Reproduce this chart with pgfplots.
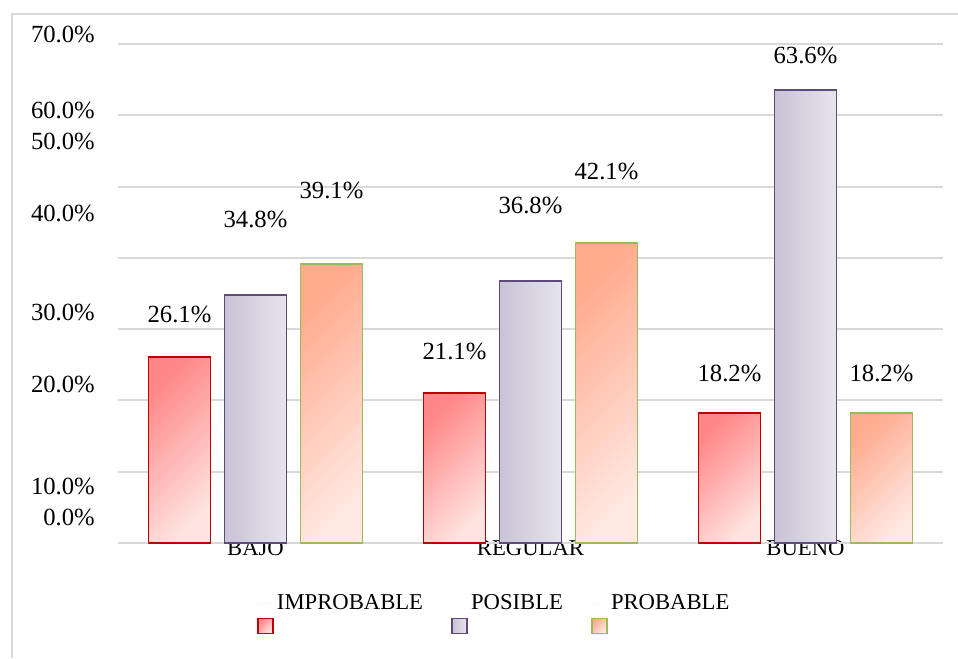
\documentclass[border=0pt]{standalone}
\usepackage{fontspec}
\setmainfont{Liberation Serif}
\usepackage{pgfplots}
\pgfplotsset{compat=1.18}

\definecolor{framegray}{HTML}{D9D9D9}
\definecolor{gridgray}{HTML}{D9D9D9}
\definecolor{impbord}{HTML}{C00000}
\definecolor{imptop}{HTML}{FF8787}
\definecolor{impbot}{HTML}{FFE4E1}
\definecolor{posbord}{HTML}{604A7B}
\definecolor{postop}{HTML}{C9C3D6}
\definecolor{posbot}{HTML}{E6E4EC}
\definecolor{probbord}{HTML}{9BBB59}
\definecolor{probtop}{HTML}{FFAB8E}
\definecolor{probbot}{HTML}{FFE8E2}

\newcommand\tl[1]{\textnormal{#1}}

% bar looks; one bar per \addplot so that each bar gets its own gradient
\tikzset{
  barimp/.style={draw=impbord, line width=1.4pt, top color=imptop, bottom color=impbot, shading angle=45},
  barpos/.style={draw=posbord, line width=1.4pt, left color=postop, right color=posbot},
  barprob/.style={draw=probbord, line width=1.4pt, top color=probtop, bottom color=probbot, shading angle=45},
}

\begin{document}
\begin{tikzpicture}
\useasboundingbox (0pt,0pt) rectangle (718.5pt,-493.5pt);
\fill[white] (0pt,0pt) rectangle (718.5pt,-493.5pt);
\draw[framegray, line width=1.5pt] (9pt,-493.5pt) -- (9pt,-10.5pt) -- (718.5pt,-10.5pt);
\begin{axis}[
  scale only axis,
  width=618.75pt, height=382.3pt,
  at={(88.5pt,-407.25pt)}, anchor=south west,
  xmin=-0.5, xmax=2.5, ymin=0, ymax=71.5,
  clip=false,
  axis line style={draw=none},
  major tick length=0pt,
  xtick={0,1,2},
  xticklabels={BAJO,REGULAR,BUENO},
  xticklabel style={anchor=base, yshift=-9pt, inner sep=0pt,
    font=\fontsize{17}{20}\selectfont},
  ytick={3.65,8.00,22.23,32.33,46.29,56.39,60.74,71.40},
  yticklabels={\tl{0.0\%},\tl{10.0\%},\tl{20.0\%},\tl{30.0\%},\tl{40.0\%},\tl{50.0\%},\tl{60.0\%},\tl{70.0\%}},
  yticklabel style={anchor=east, inner sep=0pt, xshift=-17.25pt,
    font=\fontsize{18.5}{22}\selectfont},
  extra y ticks={0,10,20,30,40,50,60,70},
  extra y tick labels={},
  extra y tick style={grid=major},
  major grid style={draw=gridgray, line width=1.5pt},
  ybar, bar width=46.5pt,
  /pgf/number format/assume math mode=true,
  point meta=y,
  nodes near coords={\pgfmathprintnumber[fixed,fixed zerofill,precision=1]{\pgfplotspointmeta}\%},
  nodes near coords style={anchor=center, text=black,
    font=\fontsize{18.5}{22}\selectfont},
  legend columns=3,
  legend style={at={(0.1697,-0.1177)}, anchor=west, draw=none, fill=none,
    inner sep=0pt, outer sep=0pt,
    font=\fontsize{17}{20}\selectfont,
    nodes={inner sep=0pt},
    /tikz/every odd column/.append style={column sep=3pt},
    /tikz/every even column/.append style={column sep=21.75pt}},
]
% BAJO bars carry the legend
\addplot[barimp, bar shift=-57pt,
  every node near coord/.append style={yshift=31.5pt},
  legend image code/.code={\path[draw=none, fill=none] (0pt,0pt) -- (11.25pt,0pt);
    \draw[barimp, line width=1.2pt, overlay] (0pt,-22.9pt) rectangle ++(11.25pt,11.25pt);}]
  coordinates {(0,26.1)};
\addplot[barpos, bar shift=0pt,
  every node near coord/.append style={yshift=56.25pt},
  legend image code/.code={\path[draw=none, fill=none] (0pt,0pt) -- (11.25pt,0pt);
    \draw[barpos, line width=1.2pt, overlay] (0pt,-22.9pt) rectangle ++(11.25pt,11.25pt);}]
  coordinates {(0,34.8)};
\addplot[barprob, bar shift=57pt,
  every node near coord/.append style={yshift=55.5pt},
  legend image code/.code={\path[draw=none, fill=none] (0pt,0pt) -- (11.25pt,0pt);
    \draw[barprob, line width=1.2pt, overlay] (0pt,-22.9pt) rectangle ++(11.25pt,11.25pt);}]
  coordinates {(0,39.1)};
% REGULAR
\addplot[forget plot, barimp, bar shift=-57pt,
  every node near coord/.append style={yshift=30.75pt}] coordinates {(1,21.1)};
\addplot[forget plot, barpos, bar shift=0pt,
  every node near coord/.append style={yshift=56.25pt}] coordinates {(1,36.8)};
\addplot[forget plot, barprob, bar shift=57pt,
  every node near coord/.append style={yshift=53.25pt}] coordinates {(1,42.1)};
% BUENO
\addplot[forget plot, barimp, bar shift=-57pt,
  every node near coord/.append style={yshift=30pt}] coordinates {(2,18.2)};
\addplot[forget plot, barpos, bar shift=0pt,
  every node near coord/.append style={yshift=25.9pt}] coordinates {(2,63.6)};
\addplot[forget plot, barprob, bar shift=57pt,
  every node near coord/.append style={yshift=30pt}] coordinates {(2,18.2)};
\legend{IMPROBABLE,POSIBLE,PROBABLE}
\end{axis}
\end{tikzpicture}
\end{document}
